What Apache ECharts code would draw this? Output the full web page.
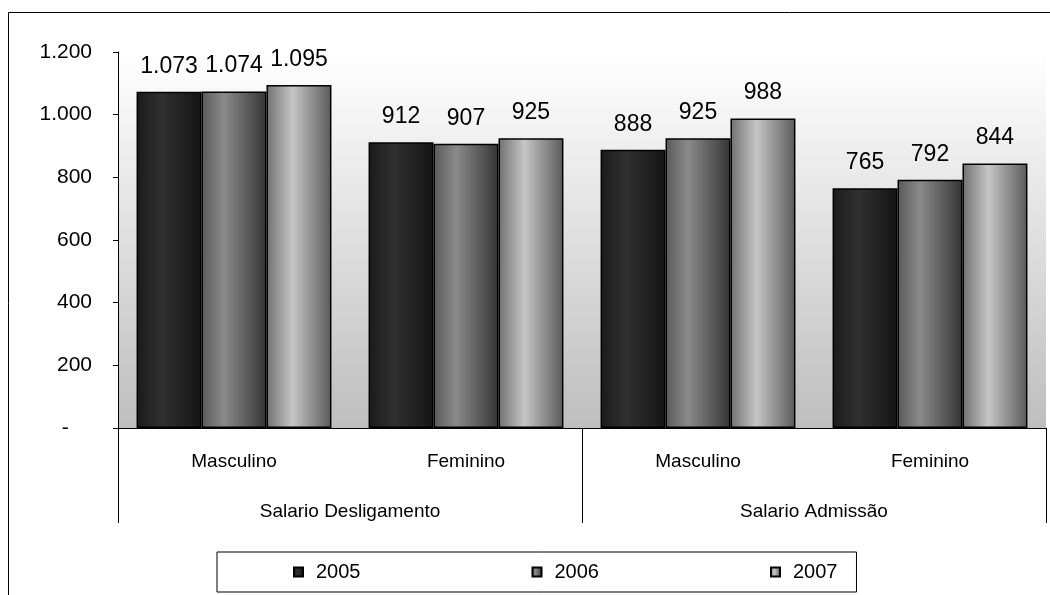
<!DOCTYPE html>
<html>
<head>
<meta charset="utf-8">
<script src="https://cdn.jsdelivr.net/npm/echarts@6/dist/echarts.min.js"></script>
<style>
html,body{margin:0;padding:0;background:#fff;}
#chart{width:1050px;height:595px;}
</style>
</head>
<body>
<div id="chart"></div>
<script>
var categories = ['Masculino', 'Feminino', 'Masculino', 'Feminino'];
var groups = ['Salario Desligamento', 'Salario Admissão'];
var seriesNames = ['2005', '2006', '2007'];
var values2005 = [1073, 912, 888, 765];
var values2006 = [1074, 907, 925, 792];
var values2007 = [1095, 925, 988, 844];
var yTicks = [0, 200, 400, 600, 800, 1000, 1200];

var FONT = '"Liberation Sans", Arial, sans-serif';

function fmt(v) {
  if (v === 0) return '-    ';
  return String(v).replace(/\B(?=(\d{3})+(?!\d))/g, '.');
}

function grad(stops) {
  return {
    type: 'linear', x: 0, y: 0, x2: 1, y2: 0,
    colorStops: stops.map(function (s) { return { offset: s[0], color: s[1] }; })
  };
}

var fills = [
  grad([[0, '#1b1b1b'], [0.4, '#303030'], [1, '#141414']]),
  grad([[0, '#5a5a5a'], [0.35, '#8a8a8a'], [1, '#353535']]),
  grad([[0, '#707070'], [0.4, '#c6c6c6'], [1, '#5a5a5a']])
];

var dataSets = [values2005, values2006, values2007];

var series = seriesNames.map(function (name, i) {
  return {
    name: name,
    type: 'bar',
    xAxisIndex: 0,
    data: dataSets[i],
    barGap: '0%',
    barCategoryGap: '16%',
    itemStyle: { color: fills[i], borderColor: '#000', borderWidth: 1.5 },
    label: {
      show: true,
      position: 'top',
      distance: 14,
      color: '#000',
      fontFamily: FONT,
      fontSize: 23,
      formatter: function (p) { return fmt(p.value); }
    }
  };
});

var chart = echarts.init(document.getElementById('chart'), null, { renderer: 'canvas' });
chart.setOption({
  animation: false,
  backgroundColor: '#fff',
  grid: {
    left: 118, right: 4, top: 52, bottom: 167,
    show: true, borderWidth: 0,
    backgroundColor: { type: 'linear', x: 0, y: 0, x2: 0, y2: 1,
      colorStops: [{ offset: 0, color: '#ffffff' }, { offset: 1, color: '#bebebe' }] }
  },
  legend: {
    data: seriesNames,
    left: 217, top: 552,
    orient: 'horizontal',
    icon: 'rect',
    itemWidth: 9, itemHeight: 9,
    itemGap: 171,
    padding: [10, 19, 10, 76],
    borderColor: '#000', borderWidth: 1,
    textStyle: { fontFamily: FONT, fontSize: 20, color: '#000', padding: [0, 0, 0, 8] }
  },
  xAxis: [
    {
      type: 'category',
      data: categories,
      position: 'bottom',
      axisLine: { show: true, lineStyle: { color: '#000', width: 1 } },
      axisTick: { show: false },
      axisLabel: { margin: 24, color: '#000', fontFamily: FONT, fontSize: 19, interval: 0 }
    },
    {
      type: 'category',
      data: groups,
      position: 'bottom',
      axisLine: { show: false },
      axisTick: { show: true, length: 95, lineStyle: { color: '#000', width: 1 } },
      axisLabel: { margin: 74, color: '#000', fontFamily: FONT, fontSize: 19, interval: 0 }
    }
  ],
  yAxis: {
    type: 'value',
    min: yTicks[0], max: yTicks[yTicks.length - 1], interval: 200,
    axisLine: { show: true, lineStyle: { color: '#000', width: 1 } },
    axisTick: { show: true, length: 5, lineStyle: { color: '#000' } },
    splitLine: { show: false },
    axisLabel: { margin: 26, color: '#000', fontFamily: FONT, fontSize: 21, formatter: fmt }
  },
  graphic: [
    { type: 'line', shape: { x1: 8.5, y1: 12.5, x2: 1050, y2: 12.5 }, style: { stroke: '#000', lineWidth: 1 } },
    { type: 'line', shape: { x1: 8.5, y1: 12.5, x2: 8.5, y2: 595 }, style: { stroke: '#000', lineWidth: 1 } }
  ],
  series: series
});
</script>
</body>
</html>
